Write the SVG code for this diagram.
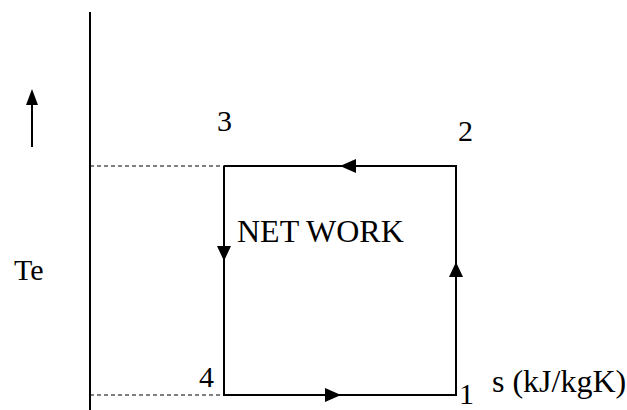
<svg xmlns="http://www.w3.org/2000/svg" width="627" height="410" viewBox="0 0 627 410">
<style>
text{font-family:"Liberation Serif","Times New Roman",serif;font-size:30px;fill:#000}
.big{font-size:32px}
.ln{stroke:#000;stroke-width:2;fill:none}
.ds{stroke:#000;stroke-width:1;stroke-dasharray:4,3;fill:none}
.ah{fill:#000}
</style>
<rect width="627" height="410" fill="#fff"/>
<g id="connectors">
<line class="ln" x1="90" y1="12" x2="90" y2="410"/>
<line class="ln" x1="32" y1="147" x2="32" y2="100"/>
<polygon class="ah" points="32,89 26,105 38,105"/>
<line class="ds" x1="90" y1="166" x2="224" y2="166"/>
<line class="ds" x1="90" y1="395" x2="224" y2="395"/>
<polyline class="ln" points="224,166 456,166 456,395 224,395 224,166"/>
<polygon class="ah" points="340,166 356,159 356,173"/>
<polygon class="ah" points="224,261 217,246 231,246"/>
<polygon class="ah" points="456,262 449,277 463,277"/>
<polygon class="ah" points="341,395 325,388 325,402"/>
</g>
<g id="label-3"><text x="217" y="131">3</text></g>
<g id="label-2"><text x="458" y="141">2</text></g>
<g id="label-4"><text x="199" y="387">4</text></g>
<g id="label-1"><text x="459" y="404">1</text></g>
<g id="net-work"><text class="big" x="237" y="242">NET WORK</text></g>
<g id="te"><text x="14" y="280">Te</text></g>
<g id="s-axis"><text class="big" x="492" y="392">s (kJ/kgK)</text></g>
</svg>
